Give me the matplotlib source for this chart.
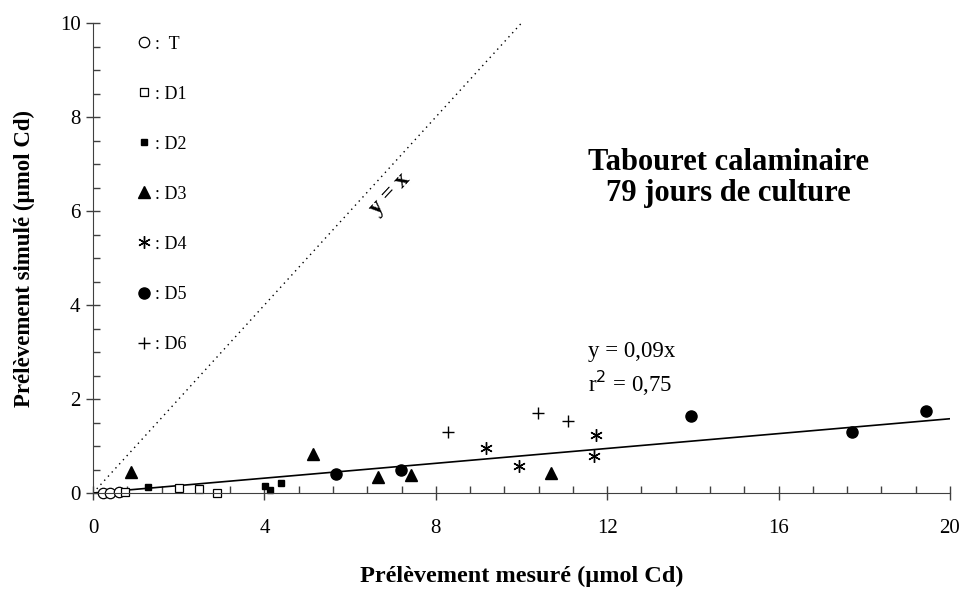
import numpy as np
import matplotlib.pyplot as plt
from matplotlib.ticker import MultipleLocator

plt.rcParams['font.family'] = ['Liberation Serif', 'DejaVu Serif']

# measured (x) vs simulated (y) uptake, umol Cd
t_x = [0.24, 0.40, 0.61]
t_y = [0.0, 0.0, 0.02]
d1_x = [0.75, 2.01, 2.48, 2.89]
d1_y = [0.03, 0.10, 0.08, 0.0]
d2_x = [1.29, 4.01, 4.13, 4.38]
d2_y = [0.12, 0.15, 0.07, 0.21]
d3_x = [0.88, 5.13, 6.64, 7.41, 10.69]
d3_y = [0.44, 0.83, 0.33, 0.38, 0.42]
d4_x = [9.17, 9.95, 11.70, 11.74]
d4_y = [0.95, 0.57, 0.79, 1.23]
d5_x = [5.67, 7.18, 13.95, 17.71, 19.43]
d5_y = [0.40, 0.49, 1.64, 1.29, 1.74]
d6_x = [8.29, 10.38, 11.08]
d6_y = [1.30, 1.71, 1.54]

fit_slope = 0.079
fit_label = "y = 0,09x\nr$^2$ = 0,75"

fig = plt.figure(figsize=(9.63, 5.90), dpi=100)
ax = fig.add_axes([0.0966, 0.1644, 0.8899, 0.7966])

# 1:1 line and regression line
ax.plot([0, 10], [0, 10], ls=(0, (1, 3)), color='black', lw=1)
xf = np.array([0, 20])
ax.plot(xf, fit_slope * xf, color='black', lw=1.2)

kw = dict(ls='none', clip_on=False, color='black')
ax.plot(t_x, t_y, marker='o', ms=7.5, mfc='white', mew=0.9, label=':  T', **kw)
ax.plot(d1_x, d1_y, marker='s', ms=6, mfc='white', mew=0.9, label=': D1', **kw)
ax.plot(d2_x, d2_y, marker='s', ms=4, label=': D2', **kw)
ax.plot(d3_x, d3_y, marker='^', ms=8, label=': D3', **kw)
ax.plot(d4_x, d4_y, marker=(6, 2, 0), ms=9, mew=1, label=': D4', **kw)
ax.plot(d5_x, d5_y, marker='o', ms=8, label=': D5', **kw)
ax.plot(d6_x, d6_y, marker='+', ms=8, mew=1, label=': D6', **kw)

ax.legend(loc='upper left', bbox_to_anchor=(0.032, 1.0), frameon=False,
          fontsize=13, labelspacing=1.83, handletextpad=0.0,
          handlelength=1.2, borderaxespad=0.3)

ax.text(14.82, 6.7, "Tabouret calaminaire\n79 jours de culture", ha='center',
        va='center', fontsize=22, fontweight='bold', linespacing=1.1)
ax.text(11.55, 2.62, fit_label, ha='left', va='center', fontsize=16.5,
        linespacing=1.3)
ax.text(6.93, 6.36, "y = x", ha='center', va='center', fontsize=17,
        fontweight='bold', rotation=47, rotation_mode='anchor')

ax.set_xlim(0, 20)
ax.set_ylim(0, 10)
ax.xaxis.set_major_locator(MultipleLocator(4))
ax.xaxis.set_minor_locator(MultipleLocator(0.8))
ax.yaxis.set_major_locator(MultipleLocator(2))
ax.yaxis.set_minor_locator(MultipleLocator(0.5))
ax.tick_params(which='major', direction='inout', length=10, width=1,
               labelsize=15, color='#404040')
ax.tick_params(axis='x', which='major', pad=14)
ax.tick_params(axis='y', which='major', pad=4)
ax.tick_params(which='minor', direction='in', length=5, width=1, color='#404040')

for s in ['top', 'right']:
    ax.spines[s].set_visible(False)
for s in ['left', 'bottom']:
    ax.spines[s].set_color('#404040')

ax.set_xlabel("Prélèvement mesuré (µmol Cd)", fontsize=17.5, fontweight='bold',
              labelpad=20)
ax.set_ylabel("Prélèvement simulé (µmol Cd)", fontsize=16.5, fontweight='bold',
              labelpad=18)

fig.savefig('out.png', dpi=100)
